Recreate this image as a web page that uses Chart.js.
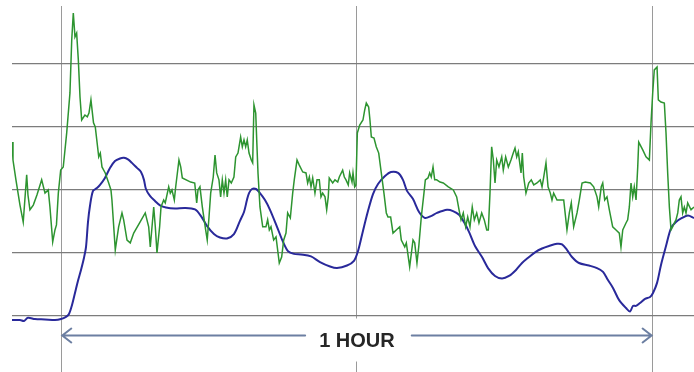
<!DOCTYPE html>
<html>
<head>
<meta charset="utf-8">
<script src="https://cdn.jsdelivr.net/npm/chart.js@4.4.1/dist/chart.umd.min.js"></script>
<style>
  html, body { margin: 0; padding: 0; background: #ffffff; }
  #wrap { width: 694px; height: 372px; }
</style>
</head>
<body>
<div id="wrap"><canvas id="trendChart" width="694" height="372"></canvas></div>
<script>
// Time in minutes (0 and 60 are the marked gridlines), readings in % of scale

const greenTime = [
    -5.00, -4.90, -4.60, -4.19, -3.86, -3.51, -3.38, -3.18, -2.84, -2.47, -1.99, -1.65, -1.32, -1.15, -0.87, -0.64, -0.49, -0.30, -0.06, 0.20,
    0.55, 0.88, 1.06, 1.22, 1.39, 1.56, 1.73, 1.90, 2.07, 2.40, 2.64, 2.81, 3.01, 3.27, 3.45, 3.80, 3.96, 4.13, 4.46, 4.81,
    5.04, 5.14, 5.48, 5.82, 6.16, 6.33, 6.67, 7.00, 7.35, 7.99, 8.52, 8.87, 9.03, 9.38, 9.54, 9.71, 9.98, 10.12, 10.39, 10.55,
    10.90, 11.06, 11.23, 11.47, 11.61, 11.94, 12.12, 12.28, 13.13, 13.54, 13.74, 13.87, 14.07, 14.31, 14.65, 14.81, 14.99, 15.16, 15.42, 15.60,
    15.77, 16.00, 16.17, 16.34, 16.51, 16.68, 16.84, 17.02, 17.25, 17.52, 17.70, 17.93, 18.20, 18.37, 18.54, 18.71, 18.87, 19.05, 19.28, 19.42,
    19.55, 19.73, 19.83, 19.96, 20.16, 20.44, 20.77, 20.94, 21.11, 21.28, 21.55, 21.79, 22.12, 22.36, 22.57, 22.80, 22.97, 23.24, 23.48, 23.64,
    23.92, 24.15, 24.50, 24.83, 25.00, 25.17, 25.34, 25.51, 25.74, 25.95, 26.18, 26.35, 26.52, 26.76, 26.93, 27.09, 27.19, 27.54, 27.77, 28.05,
    28.21, 28.55, 28.72, 28.89, 29.12, 29.26, 29.50, 29.60, 29.77, 29.90, 30.04, 30.28, 30.61, 30.79, 30.95, 31.19, 31.32, 31.46, 31.73, 31.96,
    32.21, 32.47, 32.74, 32.98, 33.15, 33.42, 33.66, 33.99, 34.34, 34.50, 34.85, 35.01, 35.35, 35.69, 35.86, 36.09, 36.27, 36.53, 36.80, 36.94,
    37.21, 37.38, 37.54, 37.72, 37.89, 38.09, 38.43, 38.76, 39.27, 39.78, 40.12, 40.36, 40.56, 40.79, 41.03, 41.24, 41.47, 41.70, 41.91, 42.15,
    42.38, 42.66, 42.92, 43.17, 43.33, 43.50, 43.67, 43.84, 44.01, 44.18, 44.41, 44.69, 44.85, 45.09, 45.36, 45.63, 45.86, 46.04, 46.21, 46.37,
    46.65, 46.78, 46.92, 47.15, 47.43, 47.69, 47.94, 48.27, 48.60, 48.78, 48.95, 49.18, 49.39, 49.62, 49.79, 49.96, 50.30, 50.63, 50.98, 51.31,
    51.55, 51.75, 51.99, 52.33, 52.56, 52.84, 53.17, 53.68, 54.02, 54.36, 54.53, 54.79, 54.94, 55.14, 55.37, 55.61, 55.95, 56.29, 56.62, 56.79,
    56.97, 57.30, 57.47, 57.64, 57.81, 57.98, 58.14, 58.32, 58.49, 58.59, 59.00, 59.33, 59.67, 59.84, 60.01, 60.17, 60.45, 60.58, 60.85, 61.19,
    61.36, 61.53, 61.70, 61.87, 62.04, 62.20, 62.37, 62.55, 62.71, 62.88, 63.05, 63.22, 63.39, 63.56, 63.90, 64.20
];
const greenValue = [
    75.2, 69.5, 63.2, 55.2, 49.8, 64.8, 58.4, 53.7, 55.2, 58.4, 63.2, 59.0, 60.0, 54.6, 43.5, 47.3, 48.9, 59.0, 66.3, 67.3,
    78.1, 90.8, 107.6, 116.2, 108.6, 109.8, 101.3, 89.5, 82.2, 83.8, 83.2, 84.4, 88.6, 81.3, 80.0, 70.5, 71.7, 67.3, 65.4, 62.2,
    60.0, 56.8, 41.0, 48.3, 52.7, 50.5, 44.1, 43.2, 46.3, 49.8, 52.7, 48.3, 41.9, 54.6, 48.3, 40.0, 48.3, 54.6, 56.8, 55.9,
    61.0, 59.0, 60.0, 56.8, 61.0, 69.5, 67.3, 63.8, 62.5, 62.2, 55.9, 60.0, 61.0, 54.6, 47.3, 44.1, 51.4, 59.0, 64.1, 71.1,
    65.4, 63.2, 57.8, 63.2, 59.0, 63.2, 57.8, 63.2, 62.2, 64.1, 70.5, 71.7, 76.8, 73.7, 75.9, 73.7, 75.9, 71.7, 69.5, 68.6,
    87.0, 84.4, 75.9, 65.4, 54.6, 48.3, 48.3, 50.5, 47.3, 48.3, 44.1, 45.1, 36.8, 38.7, 44.1, 46.3, 52.7, 51.1, 59.0, 63.2,
    69.5, 67.9, 65.7, 65.4, 62.2, 64.1, 61.0, 63.8, 59.0, 63.2, 63.2, 57.8, 59.0, 57.8, 53.7, 57.8, 63.8, 62.2, 63.2, 62.5,
    64.1, 66.3, 64.1, 63.2, 61.6, 65.4, 62.5, 65.4, 61.0, 61.6, 78.1, 80.6, 82.2, 85.4, 87.6, 86.3, 82.2, 76.8, 76.5, 73.7,
    71.7, 65.4, 59.0, 52.7, 51.4, 51.4, 46.3, 47.3, 48.3, 44.1, 41.9, 43.2, 35.6, 44.1, 43.2, 36.8, 41.9, 51.4, 59.0, 63.2,
    63.8, 65.4, 64.1, 67.3, 63.2, 63.2, 62.5, 62.2, 61.0, 60.0, 57.8, 53.7, 50.5, 52.7, 48.3, 51.4, 48.3, 54.6, 50.5, 52.7,
    49.5, 52.7, 50.5, 47.3, 47.3, 59.0, 73.7, 69.5, 62.2, 69.5, 67.3, 70.5, 66.3, 70.5, 67.3, 69.5, 71.7, 73.3, 70.5, 72.1,
    65.4, 71.7, 64.1, 59.0, 62.2, 63.2, 61.6, 62.2, 63.2, 61.0, 64.1, 68.6, 61.0, 59.0, 56.8, 59.0, 56.8, 56.8, 56.8, 47.3,
    52.7, 55.9, 48.3, 52.7, 56.8, 62.2, 62.5, 62.2, 61.0, 57.8, 54.6, 61.0, 62.2, 56.8, 57.8, 53.7, 48.3, 47.3, 46.3, 41.9,
    47.3, 49.5, 50.5, 54.6, 62.2, 57.8, 61.0, 56.8, 67.3, 75.2, 72.7, 70.5, 69.5, 81.3, 90.8, 98.1, 99.0, 88.6, 87.9, 87.6,
    78.1, 65.4, 54.6, 47.3, 48.3, 49.5, 50.5, 52.7, 56.8, 57.8, 52.7, 54.6, 52.7, 55.9, 53.7, 54.6
];

const blueTime = [
    -5.00, -4.19, -3.78, -3.38, -2.67, -1.65, -0.64, -0.03, 0.48, 0.78, 1.09, 1.39, 1.69, 2.00, 2.30, 2.51, 2.71, 2.91, 3.22, 3.62,
    3.93, 4.43, 4.94, 5.45, 5.96, 6.36, 6.77, 7.17, 7.68, 8.09, 8.39, 8.59, 9.00, 9.51, 10.02, 10.62, 11.54, 12.55, 13.57, 14.18,
    14.78, 15.49, 16.10, 16.81, 17.52, 18.13, 18.54, 18.84, 19.05, 19.35, 19.76, 20.16, 20.67, 21.18, 21.89, 22.50, 23.00, 23.61, 24.32, 25.34,
    26.25, 27.27, 27.98, 28.99, 29.70, 30.11, 30.61, 31.12, 31.63, 32.14, 32.85, 33.45, 34.17, 34.67, 35.08, 35.69, 36.30, 36.91, 37.51, 38.12,
    39.14, 39.75, 40.36, 40.86, 41.37, 41.98, 42.69, 43.30, 44.01, 44.72, 45.43, 46.14, 46.75, 47.46, 48.07, 48.78, 49.49, 50.30, 50.81, 51.31,
    51.82, 52.53, 53.55, 54.36, 54.97, 55.47, 55.98, 56.59, 57.30, 57.71, 58.01, 58.32, 58.72, 59.23, 59.74, 60.04, 60.45, 60.85, 61.36, 61.87,
    62.37, 62.98, 63.59, 64.20
];
const blueValue = [
    18.7, 18.7, 18.4, 19.4, 19.0, 18.9, 18.7, 19.0, 19.7, 20.6, 23.5, 27.3, 31.1, 34.6, 38.4, 41.9, 49.8, 54.9, 59.7, 60.6,
    61.6, 63.8, 67.0, 69.2, 70.0, 70.2, 69.7, 68.6, 67.0, 65.7, 63.2, 60.3, 58.1, 56.5, 55.1, 54.4, 54.1, 54.3, 53.8, 51.7,
    48.6, 46.0, 44.9, 44.6, 46.0, 50.2, 53.0, 56.8, 59.0, 60.3, 60.3, 59.0, 56.8, 53.7, 48.3, 43.5, 40.6, 39.7, 39.5, 38.9,
    37.1, 35.7, 35.2, 36.0, 37.5, 40.6, 47.0, 53.3, 58.7, 61.9, 64.4, 65.7, 65.4, 63.2, 59.7, 57.1, 53.0, 51.1, 51.7, 52.7,
    53.7, 53.3, 52.1, 49.8, 46.7, 42.2, 38.7, 35.2, 32.7, 31.9, 32.7, 34.6, 36.8, 38.7, 40.2, 41.4, 42.2, 42.9, 42.7, 41.0,
    38.7, 36.8, 36.0, 35.2, 34.0, 31.4, 28.9, 25.1, 22.5, 21.4, 23.2, 23.2, 24.1, 25.4, 26.0, 27.3, 30.5, 36.2, 42.2, 47.9,
    49.8, 51.1, 51.9, 51.1
];

// Axis layout
const timeMin = -5;
const timeMax = 64.2;
const timeGrid = [0, 30, 60];
const valueMin = 2.2;
const valueMax = 118.4;
const valueGrid = [20, 40, 60, 80, 100];

// Span marker under the plot
const spanStart = 0;
const spanEnd = 60;
const spanLevel = 14;
const spanLabel = '1 HOUR';

function toPoints(xs, ys) {
    return xs.map((x, i) => ({ x: x, y: ys[i] }));
}

// Draws the double arrow with its label, breaking the middle gridline
const spanMarker = {
    id: 'spanMarker',
    afterDraw(chart) {
        const ctx = chart.ctx;
        const xs = chart.scales.x;
        const ys = chart.scales.y;
        const x1 = xs.getPixelForValue(spanStart);
        const x2 = xs.getPixelForValue(spanEnd);
        const y = Math.round(ys.getPixelForValue(spanLevel)) + 0.5;
        const mid = xs.getPixelForValue((spanStart + spanEnd) / 2);

        ctx.save();
        ctx.font = 'bold 20px "Liberation Sans", Arial, sans-serif';
        const tw = ctx.measureText(spanLabel).width;
        const gap = tw / 2 + 14;

        // white box behind the label
        ctx.fillStyle = '#ffffff';
        ctx.fillRect(mid - gap, y - 17, gap * 2, 43);

        ctx.strokeStyle = '#6c7fa2';
        ctx.lineWidth = 2;
        ctx.lineCap = 'round';
        ctx.beginPath();
        ctx.moveTo(x1 + 1, y);
        ctx.lineTo(mid - gap, y);
        ctx.moveTo(mid + gap + 3, y);
        ctx.lineTo(x2 - 1, y);
        // arrow heads
        ctx.moveTo(x1 + 10, y - 7);
        ctx.lineTo(x1 + 1, y);
        ctx.lineTo(x1 + 10, y + 7);
        ctx.moveTo(x2 - 10, y - 7);
        ctx.lineTo(x2 - 1, y);
        ctx.lineTo(x2 - 10, y + 7);
        ctx.stroke();

        ctx.fillStyle = '#262626';
        ctx.textAlign = 'center';
        ctx.textBaseline = 'middle';
        ctx.fillText(spanLabel, mid, y + 6);
        ctx.restore();
    }
};

new Chart(document.getElementById('trendChart'), {
    type: 'scatter',
    data: {
        datasets: [
            {
                label: 'Signal',
                data: toPoints(greenTime, greenValue),
                showLine: true,
                borderColor: '#2d9430',
                borderWidth: 1.5,
                pointRadius: 0,
                tension: 0
            },
            {
                label: 'Average',
                data: toPoints(blueTime, blueValue),
                showLine: true,
                borderColor: '#29299a',
                borderWidth: 2,
                pointRadius: 0,
                tension: 0.3
            }
        ]
    },
    options: {
        responsive: false,
        animation: false,
        layout: { padding: { top: 6, left: 12, right: 0, bottom: 0 } },
        plugins: {
            legend: { display: false },
            tooltip: { enabled: false }
        },
        scales: {
            x: {
                type: 'linear',
                min: timeMin,
                max: timeMax,
                afterBuildTicks: (axis) => { axis.ticks = timeGrid.map(v => ({ value: v })); },
                ticks: { display: false },
                border: { display: false },
                grid: { color: '#9a9a9a', lineWidth: 1, drawTicks: false }
            },
            y: {
                type: 'linear',
                min: valueMin,
                max: valueMax,
                afterBuildTicks: (axis) => { axis.ticks = valueGrid.map(v => ({ value: v })); },
                ticks: { display: false },
                border: { display: false },
                grid: { color: '#7c7c7c', lineWidth: 1.3, drawTicks: false }
            }
        }
    },
    plugins: [spanMarker]
});
</script>
</body>
</html>
